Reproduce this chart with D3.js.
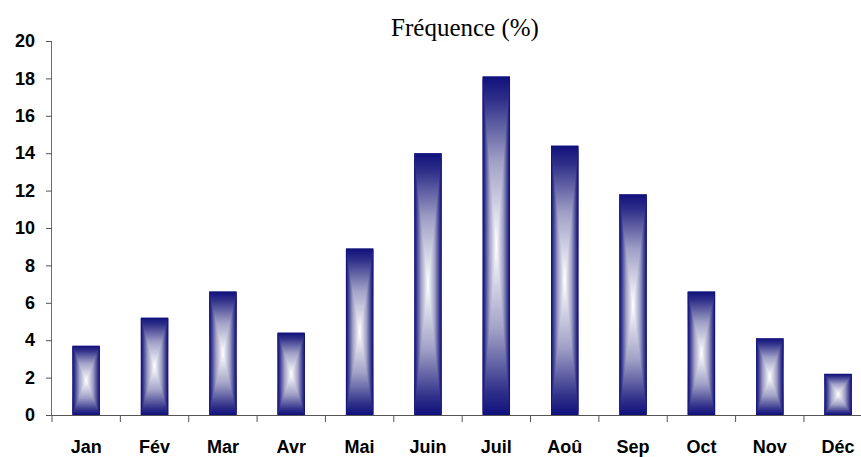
<!DOCTYPE html>
<html>
<head>
<meta charset="utf-8">
<script src="https://cdn.jsdelivr.net/npm/d3@7/dist/d3.min.js"></script>
<style>
  html, body { margin: 0; padding: 0; background: #fff; }
  svg { display: block; }
</style>
</head>
<body>
<svg id="chart" width="861" height="457"></svg>
<script>
// Monthly frequency (%)
const months = ["Jan", "Fév", "Mar", "Avr", "Mai", "Juin", "Juil", "Aoû", "Sep", "Oct", "Nov", "Déc"];
const frequency = [3.7, 5.2, 6.6, 4.4, 8.9, 14.0, 18.1, 14.4, 11.8, 6.6, 4.1, 2.2];
const yTicks = [0, 2, 4, 6, 8, 10, 12, 14, 16, 18, 20];
const title = "Fréquence (%)";

const svg = d3.select("#chart");
const W = 861, H = 457;

const plotLeft = 52, plotBottom = 415, plotTop = 41;
const step = 68.36;
const x = d3.scaleBand()
  .domain(months)
  .range([plotLeft, plotLeft + step * months.length])
  .paddingInner(0.6)
  .paddingOuter(0.3);
const y = d3.scaleLinear().domain([0, 20]).range([plotBottom, plotTop]);

// Gradients: rectangular "from centre" fill built from a vertical base
// and two side wedges with horizontal gradients.
const navy = "#10107c";
const defs = svg.append("defs");
const stops = (g, list) => list.forEach(([o, c]) =>
  g.append("stop").attr("offset", o).attr("stop-color", c));

stops(defs.append("linearGradient").attr("id", "gV")
  .attr("x1", 0).attr("y1", 0).attr("x2", 0).attr("y2", 1),
  [[0, navy], [0.07, "#30308a"], [0.25, "#a0a0c6"], [0.5, "#ffffff"],
   [0.75, "#a0a0c6"], [0.93, "#30308a"], [1, navy]]);
stops(defs.append("linearGradient").attr("id", "gL")
  .attr("x1", 0).attr("y1", 0).attr("x2", 1).attr("y2", 0),
  [[0, navy], [0.14, "#30308a"], [0.5, "#a0a0c6"], [1, "#ffffff"]]);
stops(defs.append("linearGradient").attr("id", "gR")
  .attr("x1", 0).attr("y1", 0).attr("x2", 1).attr("y2", 0),
  [[0, "#ffffff"], [0.5, "#a0a0c6"], [0.86, "#30308a"], [1, navy]]);

// Bars
const bars = svg.append("g").selectAll("g")
  .data(months.map((m, i) => ({ m, v: frequency[i] })))
  .join("g");

bars.each(function (d) {
  const g = d3.select(this);
  const x0 = x(d.m), x1 = x0 + x.bandwidth();
  const y0 = y(d.v), y1 = y(0);
  const cx = (x0 + x1) / 2, cy = (y0 + y1) / 2;
  g.append("rect")
    .attr("x", x0).attr("y", y0)
    .attr("width", x1 - x0).attr("height", y1 - y0)
    .attr("fill", "url(#gV)");
  g.append("polygon")
    .attr("points", [[x0, y0], [cx, cy], [x0, y1]].join(" "))
    .attr("fill", "url(#gL)");
  g.append("polygon")
    .attr("points", [[x1, y0], [x1, y1], [cx, cy]].join(" "))
    .attr("fill", "url(#gR)");
  g.append("rect")
    .attr("x", x0 + 0.25).attr("y", y0 + 0.25)
    .attr("width", x1 - x0 - 0.5).attr("height", y1 - y0 - 0.5)
    .attr("fill", "none").attr("stroke", navy).attr("stroke-width", 0.5);
});

// Y axis
const yAxis = svg.append("g")
  .attr("transform", `translate(${plotLeft},0)`)
  .call(d3.axisLeft(y).tickValues(yTicks).tickSize(6).tickPadding(10).tickFormat(d3.format("d")));
yAxis.select(".domain").attr("stroke", "#6e6e6e").attr("d", `M-0.5,${plotTop}V${plotBottom}`);
yAxis.selectAll(".tick line").attr("stroke", "#555");
yAxis.selectAll(".tick text")
  .attr("font-family", "'Liberation Sans', Arial, sans-serif")
  .attr("font-size", 18).attr("font-weight", "bold").attr("fill", "#000")
  .attr("x", -17);

// X axis: line with tick marks at category boundaries
const xg = svg.append("g");
xg.append("line")
  .attr("x1", plotLeft).attr("x2", W).attr("y1", plotBottom + 0.5).attr("y2", plotBottom + 0.5)
  .attr("stroke", "#555");
const bounds = d3.range(months.length + 1).map(i => plotLeft + i * x.step());
xg.selectAll("line.tk").data(bounds).join("line").attr("class", "tk")
  .attr("x1", d => d).attr("x2", d => d)
  .attr("y1", plotBottom).attr("y2", plotBottom + 7)
  .attr("stroke", "#555");
xg.selectAll("text").data(months).join("text")
  .attr("x", d => x(d) + x.bandwidth() / 2)
  .attr("y", 452.5)
  .attr("text-anchor", "middle")
  .attr("font-family", "'Liberation Sans', Arial, sans-serif")
  .attr("font-size", 18).attr("font-weight", "bold")
  .text(d => d);

// Title
svg.append("text")
  .attr("x", 465).attr("y", 36)
  .attr("text-anchor", "middle")
  .attr("font-family", "'Liberation Serif', 'Times New Roman', serif")
  .attr("font-size", 25)
  .text(title);
</script>
</body>
</html>
